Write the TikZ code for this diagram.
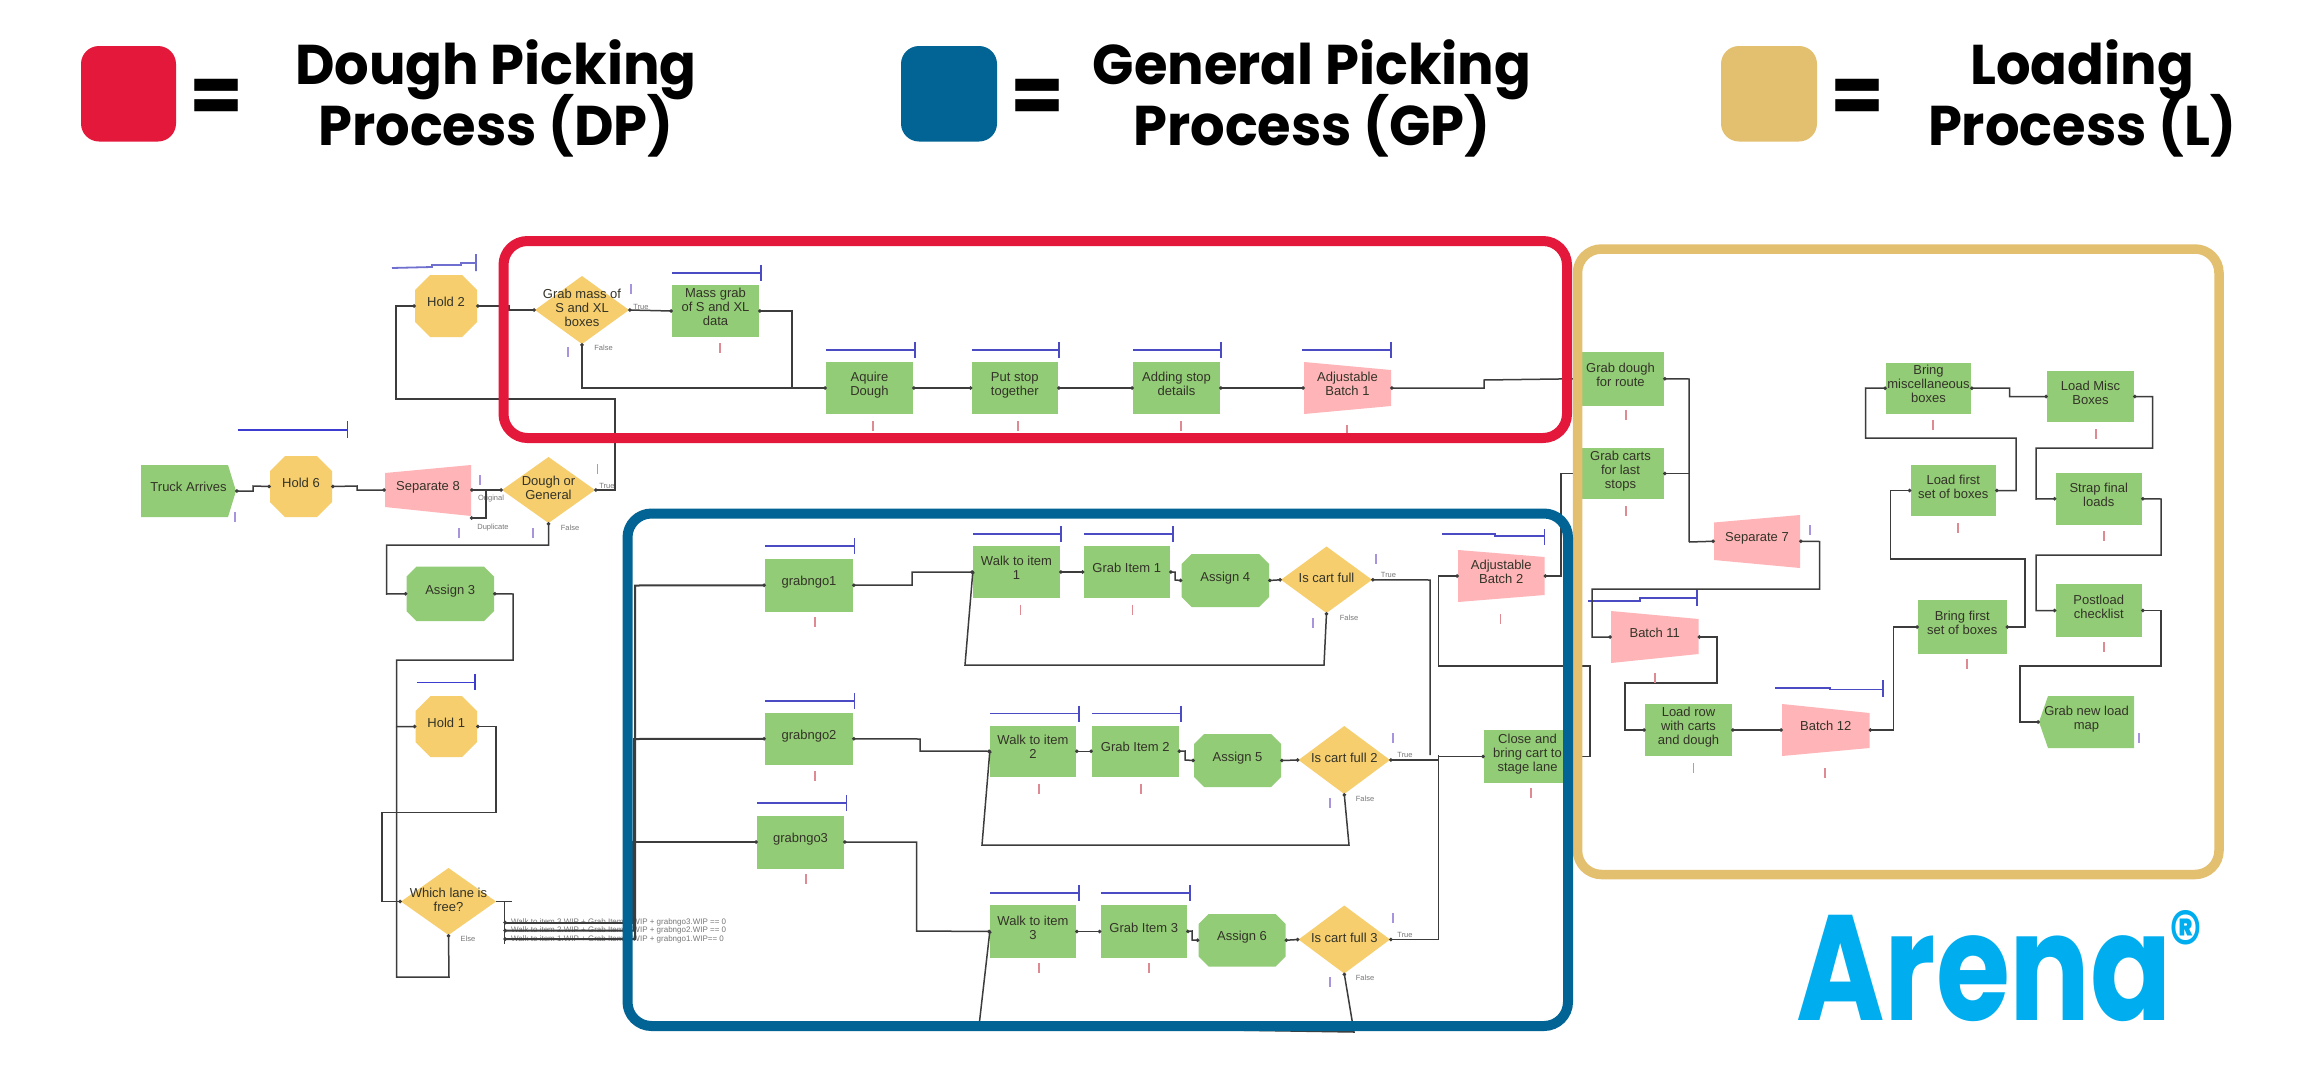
\documentclass[tikz,border=0pt]{standalone}
\usepackage{fontspec}
\usetikzlibrary{arrows.meta}
\setmainfont{Liberation Sans}
\newfontfamily\legendfont[FakeStretch=0.97]{Poppins}
\newfontfamily\arenafont[FakeStretch=0.8]{Poppins}
\definecolor{cRed}{HTML}{E4183A}
\definecolor{cBlue}{HTML}{026494}
\definecolor{cGold}{HTML}{E3C06F}
\definecolor{cGreen}{HTML}{93CC77}
\definecolor{cOrange}{HTML}{F6CE6E}
\definecolor{cPink}{HTML}{FFB5B8}
\definecolor{cQueue}{HTML}{4B4BC4}
\definecolor{cLine}{HTML}{3C3C3C}
\definecolor{cText}{HTML}{333328}
\definecolor{cTiny}{HTML}{777777}
\definecolor{cMarkR}{HTML}{DD8A92}
\definecolor{cMarkP}{HTML}{A794DC}
\definecolor{cArena}{HTML}{00AEEF}
\tikzset{
  dot/.tip={Circle[length=3.4pt,width=3.4pt,sep=-1pt]},
  lbl/.style={rectangle,inner sep=0pt,align=center,text=cText,text depth=8pt,
    font=\fontsize{13}{14}\selectfont},
  gbox/.style={lbl,fill=cGreen},
  tinylbl/.style={inner sep=0pt,text=cTiny,font=\fontsize{7.5}{8}\selectfont},
  condlbl/.style={inner sep=0pt,text=cTiny,anchor=west,font=\fontsize{8}{8}\selectfont},
  conn/.style={draw=cLine,line width=1.5pt,line join=miter,dot-dot},
  connj/.style={draw=cLine,line width=1.5pt,line join=miter,dot-},
  frame/.style={draw,rounded corners=24pt,line width=10pt},
  legendsq/.style={rounded corners=18pt},
  legendtxt/.style={align=center,inner sep=0pt,text=black,
    execute at begin node={\lineskiplimit=-100pt\relax},
    font=\legendfont\bfseries\fontsize{56}{61}\selectfont},
  legendeq/.style={inner sep=0pt,text=black,font=\legendfont\bfseries\fontsize{80}{80}\selectfont},
  queue/.style={draw=cQueue,line width=1.8pt},
  markr/.style={draw=cMarkR,line width=1.4pt},
  markp/.style={draw=cMarkP,line width=1.4pt},
}
% rectangle process block: name,x1,x2,y1,y2,text
\newcommand{\procblock}[6]{\node[gbox,minimum width={(#3-#2)*1pt},minimum height={(#5-#4)*1pt}] (#1) at ({(#2+#3)/2},{(#4+#5)/2}) {#6};}
% chamfered block: fill,name,x1,x2,y1,y2,chamfer,text
\newcommand{\chamblock}[8]{\fill[#1] ({#3+#7},#5) -- ({#4-#7},#5) -- (#4,{#5+#7}) -- (#4,{#6-#7}) -- ({#4-#7},#6) -- ({#3+#7},#6) -- (#3,{#6-#7}) -- (#3,{#5+#7}) -- cycle;
  \node[lbl,minimum width={(#4-#3)*1pt},minimum height={(#6-#5)*1pt}] (#2) at ({(#3+#4)/2},{(#5+#6)/2}) {#8};}
% decision: name,x1,x2,y1,y2,text
\newcommand{\decblock}[6]{\fill[cOrange] (#2,{(#4+#5)/2}) -- ({(#2+#3)/2},#4) -- (#3,{(#4+#5)/2}) -- ({(#2+#3)/2},#5) -- cycle;
  \node[lbl,text depth=4pt,minimum width={(#3-#2)*1pt},minimum height={(#5-#4)*1pt}] (#1) at ({(#2+#3)/2},{(#4+#5)/2}) {#6};}
% trapezoid: name,x1,x2,yl1,yl2,yr1,yr2,text
\newcommand{\trapblock}[8]{\fill[cPink] (#2,#4) -- (#3,#6) -- (#3,#7) -- (#2,#5) -- cycle;
  \node[lbl,minimum width={(#3-#2)*1pt},minimum height={(#7-#6)*1pt}] (#1) at ({(#2+#3)/2},{(#4+#5)/2}) {#8};}
% queue bar: x1,x2,y
\newcommand{\queuebar}[3]{\draw[queue] (#1,#3) -- (#2,#3) (#2,{#3-8}) -- (#2,{#3+8});}
\begin{document}
\begin{tikzpicture}[x=1pt,y=-1pt]
\useasboundingbox (0,0) rectangle (2305,1071);
\fill[white] (0,0) rectangle (2305,1071);

% legend
\fill[cRed,legendsq] (81,46) rectangle (176,141.5);
\fill[cBlue,legendsq] (901,46) rectangle (997,141.5);
\fill[cGold,legendsq] (1721,46) rectangle (1817,141.5);
\node[legendeq] (eqa) at (217,101) {=};
\node[legendeq] (eqb) at (1037,101) {=};
\node[legendeq] (eqc) at (1857,101) {=};
\node[legendtxt] (legdp) at (496,98) {Dough Picking\\Process (DP)};
\node[legendtxt] (leggp) at (1312,98) {General Picking\\Process (GP)};
\node[legendtxt] (legl) at (2082,98) {Loading\\Process (L)};

% arena logo
\node[inner sep=0pt,anchor=base west,text=cArena,font=\arenafont\bfseries\fontsize{150}{150}\selectfont] (arena) at (1796,1020) {Arena};
\node[inner sep=0pt,text=cArena,font=\arenafont\bfseries\fontsize{80}{80}\selectfont] (regmark) at (2186,939) {®};

% left column
\fill[cGreen] (141,465) -- (228,465) -- (236,491) -- (228,517) -- (141,517) -- cycle;
\node[lbl,minimum width=95pt,minimum height=52pt] (truck) at (188.5,491) {Truck Arrives};
\chamblock{cOrange}{holdsix}{270}{332}{456}{517}{15}{Hold 6}
\trapblock{sepeight}{385}{471}{473}{507}{465}{516}{Separate 8}
\decblock{dough}{502}{595}{457}{523}{Dough or\\General}
\chamblock{cOrange}{holdtwo}{415}{477}{275}{337}{15}{Hold 2}
\decblock{grabmass}{535}{629}{276}{344}{Grab mass of\\S and XL\\boxes}
\chamblock{cGreen}{assignthree}{406.5}{494}{566.5}{621}{10}{Assign 3}
\chamblock{cOrange}{holdone}{415.5}{477}{696}{757}{15}{Hold 1}
\decblock{whichlane}{401}{496}{868}{935}{Which lane is\\free?}

% dough picking row
\procblock{massgrab}{672}{759}{285}{337}{Mass grab\\of S and XL\\data}
\procblock{aquire}{826}{913}{362}{414}{Aquire\\Dough}
\procblock{putstop}{971.5}{1058}{362}{414}{Put stop\\together}
\procblock{addstop}{1133}{1220}{362}{414}{Adding stop\\details}
\trapblock{adjone}{1304}{1391}{362}{414}{370}{406}{Adjustable\\Batch 1}

% general picking
\procblock{grabone}{765}{853}{558.5}{612}{grabngo1}
\procblock{grabtwo}{765}{853}{713}{764.5}{grabngo2}
\procblock{grabthree}{757}{844}{815.5}{868.5}{grabngo3}
\procblock{walkone}{973}{1060}{546}{598}{Walk to item\\1}
\procblock{itemone}{1083.5}{1170}{546}{598}{Grab Item 1}
\chamblock{cGreen}{assignfour}{1181.5}{1269}{554}{607}{10}{Assign 4}
\decblock{fullone}{1281}{1372}{546.5}{613}{Is cart full}
\procblock{walktwo}{990}{1076}{725.5}{777}{Walk to item\\2}
\procblock{itemtwo}{1092}{1178.5}{725.5}{777}{Grab Item 2}
\chamblock{cGreen}{assignfive}{1194}{1281}{734}{787}{10}{Assign 5}
\decblock{fulltwo}{1298.5}{1390}{726}{794}{Is cart full 2}
\procblock{walkthree}{990}{1076}{905}{958}{Walk to item\\3}
\procblock{itemthree}{1100.5}{1187}{905}{958}{Grab Item 3}
\chamblock{cGreen}{assignsix}{1198.5}{1285.5}{914}{966.5}{10}{Assign 6}
\decblock{fullthree}{1298.5}{1390}{905.5}{973.5}{Is cart full 3}
\trapblock{adjtwo}{1458}{1544.5}{550}{602}{557}{595}{Adjustable\\Batch 2}
\procblock{closecart}{1484}{1571}{730}{783}{Close and\\bring cart to\\stage lane}

% loading
\procblock{graburoute}{1577}{1664}{352}{405.5}{Grab dough\\for route}
\procblock{grabcarts}{1577}{1664}{448}{499}{Grab carts\\for last\\stops}
\trapblock{sepseven}{1714}{1800}{522.5}{560}{515}{568}{Separate 7}
\trapblock{batcheleven}{1611}{1698.5}{611}{663}{619}{654}{Batch 11}
\procblock{loadrow}{1645}{1732}{704}{756}{Load row\\with carts\\and dough}
\trapblock{batchtwelve}{1782}{1869.5}{704}{756}{713}{748}{Batch 12}
\procblock{bringfirst}{1918}{2006.5}{600}{654}{Bring first\\set of boxes}
\procblock{loadfirst}{1910.5}{1996}{465}{516}{Load first\\set of boxes}
\procblock{bringmisc}{1886}{1971}{362.5}{414}{Bring\\miscellaneous\\boxes}
\procblock{loadmisc}{2047}{2134}{371}{422}{Load Misc\\Boxes}
\procblock{strap}{2055.5}{2142}{473}{524.5}{Strap final\\loads}
\procblock{postload}{2055.5}{2142}{584}{637}{Postload\\checklist}
\fill[cGreen] (2039,722) -- (2048,696) -- (2134,696) -- (2134,748) -- (2048,748) -- cycle;
\node[lbl,minimum width=95pt,minimum height=52pt] (newmap) at (2086.5,722) {Grab new load\\map};

% queue bars
\draw[queue,cQueue!80!white] (392,268) -- (432,267) -- (432,265) -- (461,265) -- (461,263) -- (476,263) (476,254) -- (476,271);
\draw[queue,cQueue!80!blue] (237.5,430) -- (347.5,430) (347.5,421) -- (347.5,438);
\draw[queue,cQueue!80!blue] (417,682.5) -- (475,682.5) (475,674) -- (475,690);
\queuebar{672}{761}{273}
\queuebar{826}{915}{350}
\queuebar{971.5}{1059}{350}
\queuebar{1133}{1221}{350}
\queuebar{1302}{1391}{350}
\queuebar{765}{854.5}{546}
\queuebar{765}{854.5}{701}
\queuebar{757}{846.5}{803}
\queuebar{973}{1061}{534}
\queuebar{1083.5}{1173}{534}
\queuebar{990}{1079}{713.5}
\queuebar{1092}{1181}{713.5}
\queuebar{990}{1079}{893}
\queuebar{1100.5}{1190}{893}
\draw[queue] (1442,534) -- (1495,534) -- (1495,536) -- (1544.5,536) (1544.5,529) -- (1544.5,545);
\draw[queue] (1588,601) -- (1640,601) -- (1640,598) -- (1697,598) (1697,590) -- (1697,606);
\draw[queue] (1775,688) -- (1830,688) -- (1830,689.5) -- (1883,689.5) (1883,680) -- (1883,697);

% small labels under the connectors
\node[tinylbl] (tt) at (641,307) {True};
\node[tinylbl] (tf) at (603.5,348) {False};
\node[tinylbl] (torig) at (491,499) {Original};
\node[tinylbl] (tdup) at (493,528) {Duplicate};
\node[tinylbl] (tt2) at (607,486) {True};
\node[tinylbl] (tf2) at (570,528) {False};
\node[tinylbl] (else) at (468,939) {Else};
\node[tinylbl] (t3) at (1388.5,575) {True};
\node[tinylbl] (f3) at (1349,618) {False};
\node[tinylbl] (t4) at (1405,755) {True};
\node[tinylbl] (f4) at (1365,798.5) {False};
\node[tinylbl] (t5) at (1405,934.5) {True};
\node[tinylbl] (f5) at (1365,978) {False};
\node[condlbl] (condc) at (511,922.5) {Walk to item 3.WIP + Grab Item 3.WIP + grabngo3.WIP == 0};
\node[condlbl] (condb) at (511,930.5) {Walk to item 2.WIP + Grab Item 2.WIP + grabngo2.WIP == 0};
\node[condlbl] (conda) at (511,939) {Walk to item 1.WIP + Grab Item 1.WIP + grabngo1.WIP== 0};

% connectors
\draw[conn] (truck.east) -- (253,491) -- (253,486) -- (holdsix.west);
\draw[conn] (holdsix.east) -- (357,486) -- (357,490) -- (sepeight.west);
\draw[conn] (sepeight.east) -- (dough.west);
\draw[connj] (471,518) -- (486,518) -- (486,490);
\draw[conn] (dough.east) -- (615,490) -- (615,399) -- (396,399) -- (396,306) -- (holdtwo.west);
\draw[conn] (holdtwo.east) -- (509,306) -- (509,310) -- (grabmass.west);
\draw[conn] (grabmass.east) -- (massgrab.west);
\draw[conn] (grabmass.south) -- (582,388) -- (aquire.west);
\draw[connj] (massgrab.east) -- (792,311) -- (792,388);
\draw[conn] (aquire.east) -- (putstop.west);
\draw[conn] (putstop.east) -- (addstop.west);
\draw[conn] (addstop.east) -- (adjone.west);
\draw[conn] (adjone.east) -- (1484,388) -- (1484,380) -- (graburoute.west);
\draw[conn] (dough.south) -- (548.5,545) -- (386.5,545) -- (386.5,594) -- (assignthree.west);
\draw[conn] (assignthree.east) -- (513,594) -- (513,660) -- (396.5,660) -- (396.5,726.5) -- (holdone.west);
\draw[connj] (whichlane.south) -- (449,977) -- (396.5,977) -- (396.5,726.5);
\draw[conn] (holdone.east) -- (496,726.5) -- (496,812.5) -- (382,812.5) -- (382,901.5) -- (whichlane.west);
\draw[draw=cLine,line width=1.5pt] (whichlane.east) -- (511.5,901.5) (504.5,901.5) -- (504.5,944);
\coordinate (wlc) at (504.5,922.5);
\coordinate (wlb) at (504.5,930.5);
\coordinate (wla) at (504.5,939);
\draw[conn,line width=2pt] (wla) -- (635,939) -- (635,585.5) -- (grabone.west);
\draw[conn,line width=2pt] (wlb) -- (634,930.5) -- (634,739) -- (grabtwo.west);
\draw[conn,line width=2pt] (wlc) -- (632,922.5) -- (632,842) -- (grabthree.west);
\draw[conn] (grabone.east) -- (912,585) -- (912,572) -- (walkone.west);
\draw[conn] (walkone.east) -- (itemone.west);
\draw[conn] (itemone.east) -- (1175,572) -- (1175,580) -- (assignfour.west);
\draw[conn] (assignfour.east) -- (fullone.west);
\draw[conn] (fullone.south) -- (1324,665) -- (965,665) -- (walkone.west);
\draw[conn] (grabtwo.east) -- (920,739) -- (920,751) -- (walktwo.west);
\draw[conn] (walktwo.east) -- (itemtwo.west);
\draw[conn] (itemtwo.east) -- (1185,751) -- (1185,760) -- (assignfive.west);
\draw[conn] (assignfive.east) -- (fulltwo.west);
\draw[conn] (fulltwo.south) -- (1349,845) -- (982,845) -- (walktwo.west);
\draw[conn] (grabthree.east) -- (916.5,842) -- (916.5,931) -- (walkthree.west);
\draw[conn] (walkthree.east) -- (itemthree.west);
\draw[conn] (itemthree.east) -- (1192,931) -- (1192,940) -- (assignsix.west);
\draw[conn] (assignsix.east) -- (fullthree.west);
\draw[conn] (fullthree.south) -- (1354,1032) -- (979,1026) -- (walkthree.west);
\draw[connj] (fullone.east) -- (1430,580) -- (1430,755);
\draw[connj] (fulltwo.east) -- (1438.5,760) -- (1438.5,755);
\draw[conn] (fullthree.east) -- (1438.5,939.5) -- (1438.5,756.5) -- (closecart.west);
\draw[conn] (closecart.east) -- (1590,756.5) -- (1590,666) -- (1438.5,666) -- (1438.5,576) -- (adjtwo.west);
\draw[conn] (adjtwo.east) -- (1561,576) -- (1561,473.5) -- (grabcarts.west);
\draw[connj] (graburoute.east) -- (1689,379) -- (1689,542);
\draw[connj] (grabcarts.east) -- (1689,473.5);
\draw[draw=cLine,line width=1.5pt,-dot] (1689,542) -- (sepseven.west);
\draw[conn] (sepseven.east) -- (1819.5,541.5) -- (1819.5,589) -- (1592,589) -- (1592,637) -- (batcheleven.west);
\draw[conn] (batcheleven.east) -- (1717,637) -- (1717,683) -- (1625,683) -- (1625,730) -- (loadrow.west);
\draw[conn] (loadrow.east) -- (batchtwelve.west);
\draw[conn] (batchtwelve.east) -- (1893.5,730) -- (1893.5,627) -- (bringfirst.west);
\draw[conn] (bringfirst.east) -- (2025,627) -- (2025,559) -- (1890.5,559) -- (1890.5,490.5) -- (loadfirst.west);
\draw[conn] (loadfirst.east) -- (2016,490.5) -- (2016,438) -- (1865.5,438) -- (1865.5,388) -- (bringmisc.west);
\draw[conn] (bringmisc.east) -- (2009.5,388) -- (2009.5,396.5) -- (loadmisc.west);
\draw[conn] (loadmisc.east) -- (2152.5,396.5) -- (2152.5,448) -- (2036,448) -- (2036,499) -- (strap.west);
\draw[conn] (strap.east) -- (2161,499) -- (2161,555) -- (2036,555) -- (2036,610.5) -- (postload.west);
\draw[conn] (postload.east) -- (2161,610.5) -- (2161,666) -- (2020,666) -- (2020,722) -- (newmap.west);

% counters
\foreach \x/\y in {720/348,873/426,1018/426,1181/426,1347/430,815/622,815/776,806/879,1020.5/609.5,1132.5/609.5,1039/788.5,1141/788.5,1039/968,1149/968,1500.5/619,1531/793,1626/415,1626/511,1655/678,1693.5/768,1825/773,1967/663.5,1958/528,1933/425,2096/434,2104/536,2104/647}
  \draw[markr] (\x,\y-5) -- (\x,\y+5);
\foreach \x/\y in {235/517,480/480,597.5/469,631/289,568/352,459/533,533/533,1376/558.5,1313/623,1393/738,1330/803,1393/917.5,1330/982,1810/530,2139/738}
  \draw[markp] (\x,\y-5) -- (\x,\y+5);

% colour frames
\draw[frame,cRed] (503.5,241) rectangle (1567,438);
\draw[frame,line width=9.5pt,cGold] (1577.5,249) rectangle (2219,874.5);
\draw[frame,cBlue] (627.5,513.5) rectangle (1568,1026);
\end{tikzpicture}
\end{document}
